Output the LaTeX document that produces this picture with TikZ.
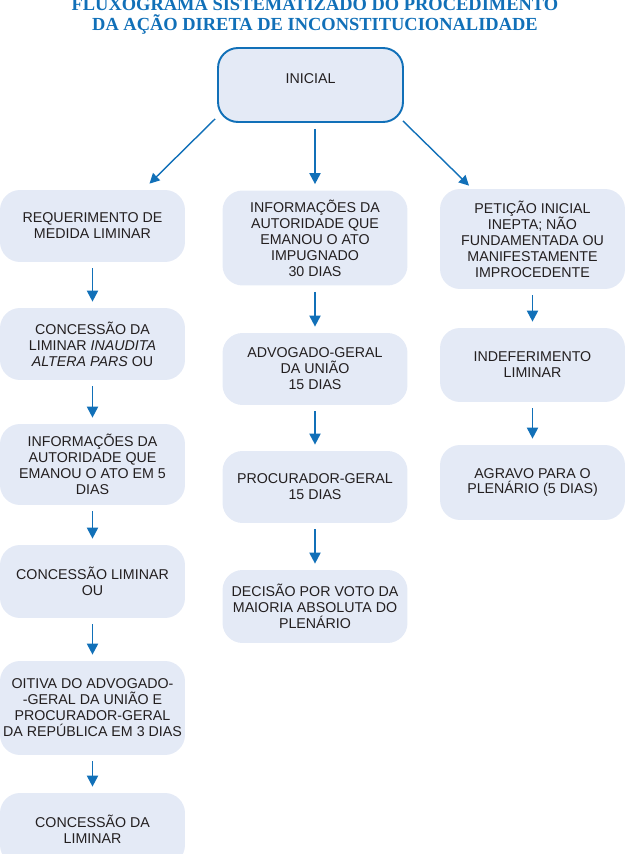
\documentclass[tikz,border=0pt]{standalone}
\usepackage{fontspec}
\setmainfont{Liberation Sans}
\newfontfamily\titlefont{Liberation Serif}
\usetikzlibrary{arrows.meta}

\definecolor{fluxblue}{HTML}{1170B8}
\definecolor{boxfill}{HTML}{E4EAF6}
\definecolor{txtgray}{HTML}{231F20}

\begin{document}
\begin{tikzpicture}[x=0.02cm,y=-0.02cm,
  caixa/.style={rectangle, rounded corners=0.4cm, fill=boxfill, text=txtgray,
    minimum width=3.7cm, inner xsep=0pt, align=center,
    font=\fontsize{8.1}{9.1}\selectfont},
  seta/.style={-{Triangle[width=0.22cm,length=0.22cm]}, draw=fluxblue, line width=1.1pt,
    shorten <=0.12cm, shorten >=0.12cm},
  diag/.style={-{Triangle[width=0.2cm,length=0.2cm]}, draw=fluxblue, line width=0.8pt}]
\clip (0,0) rectangle (625,854);

\node (titulo) [text=fluxblue, align=center,
  font=\titlefont\bfseries\fontsize{10.5}{11.3}\selectfont] at (315,16)
  {FLUXOGRAMA SISTEMATIZADO DO PROCEDIMENTO\\DA AÇÃO DIRETA DE INCONSTITUCIONALIDADE};

\node (ini) [caixa, draw=fluxblue, line width=1.1pt, minimum width=3.7cm,
  minimum height=1.48cm, text depth=0.25cm] at (310.5,85) {INICIAL};

% coluna esquerda
\node (req)  [caixa, minimum height=1.44cm] at (92.5,226) {REQUERIMENTO DE\\MEDIDA LIMINAR};
\node (con1) [caixa, minimum height=1.44cm] at (92.5,344) {CONCESSÃO DA\\LIMINAR \textit{INAUDITA}\\\textit{ALTERA PARS} OU};
\node (inf5) [caixa, minimum height=1.62cm] at (92.5,464.5) {INFORMAÇÕES DA\\AUTORIDADE QUE\\EMANOU O ATO EM 5\\DIAS};
\node (con2) [caixa, minimum height=1.46cm] at (92.5,581.5) {CONCESSÃO LIMINAR\\OU};
\node (oit)  [caixa, minimum height=1.88cm] at (92.5,708) {OITIVA DO ADVOGADO-\\-GERAL DA UNIÃO E\\PROCURADOR-GERAL\\DA REPÚBLICA EM 3 DIAS};
\node (con3) [caixa, minimum height=1.44cm] at (92.5,829) {CONCESSÃO DA\\LIMINAR};

% coluna do meio
\node (inf30) [caixa, minimum height=1.9cm] at (315,238) {INFORMAÇÕES DA\\AUTORIDADE QUE\\EMANOU O ATO\\IMPUGNADO\\30 DIAS};
\node (agu)   [caixa, minimum height=1.44cm] at (315,369) {ADVOGADO-GERAL\\DA UNIÃO\\15 DIAS};
\node (pgr)   [caixa, minimum height=1.44cm] at (315,487) {PROCURADOR-GERAL\\15 DIAS};
\node (dec)   [caixa, minimum height=1.46cm] at (315,606.5) {DECISÃO POR VOTO DA\\MAIORIA ABSOLUTA DO\\PLENÁRIO};

% coluna direita
\node (pet) [caixa, minimum height=2cm]    at (532.5,239) {PETIÇÃO INICIAL\\INEPTA; NÃO\\FUNDAMENTADA OU\\MANIFESTAMENTE\\IMPROCEDENTE};
\node (ind) [caixa, minimum height=1.48cm] at (532.5,365) {INDEFERIMENTO\\LIMINAR};
\node (agr) [caixa, minimum height=1.5cm]  at (532.5,482.5) {AGRAVO PARA O\\PLENÁRIO (5 DIAS)};

\draw[diag] ([xshift=-0.04cm,yshift=0.08cm]ini.south west) -- ([xshift=1.14cm,yshift=0.12cm]req.north);
\draw[seta] (inf30.north |- ini.south) -- (inf30.north);
\draw[diag] ([xshift=-0.02cm,yshift=0.04cm]ini.south east) -- ([xshift=-1.27cm,yshift=0.06cm]pet.north);

\draw[seta] (req) -- (con1);
\draw[seta] (con1) -- (inf5);
\draw[seta] (inf5) -- (con2);
\draw[seta] (con2) -- (oit);
\draw[seta] (oit) -- (con3);

\draw[seta] (inf30) -- (agu);
\draw[seta] (agu) -- (pgr);
\draw[seta] (pgr) -- (dec);

\draw[seta] (pet) -- (ind);
\draw[seta] (ind) -- (agr);
\end{tikzpicture}
\end{document}
